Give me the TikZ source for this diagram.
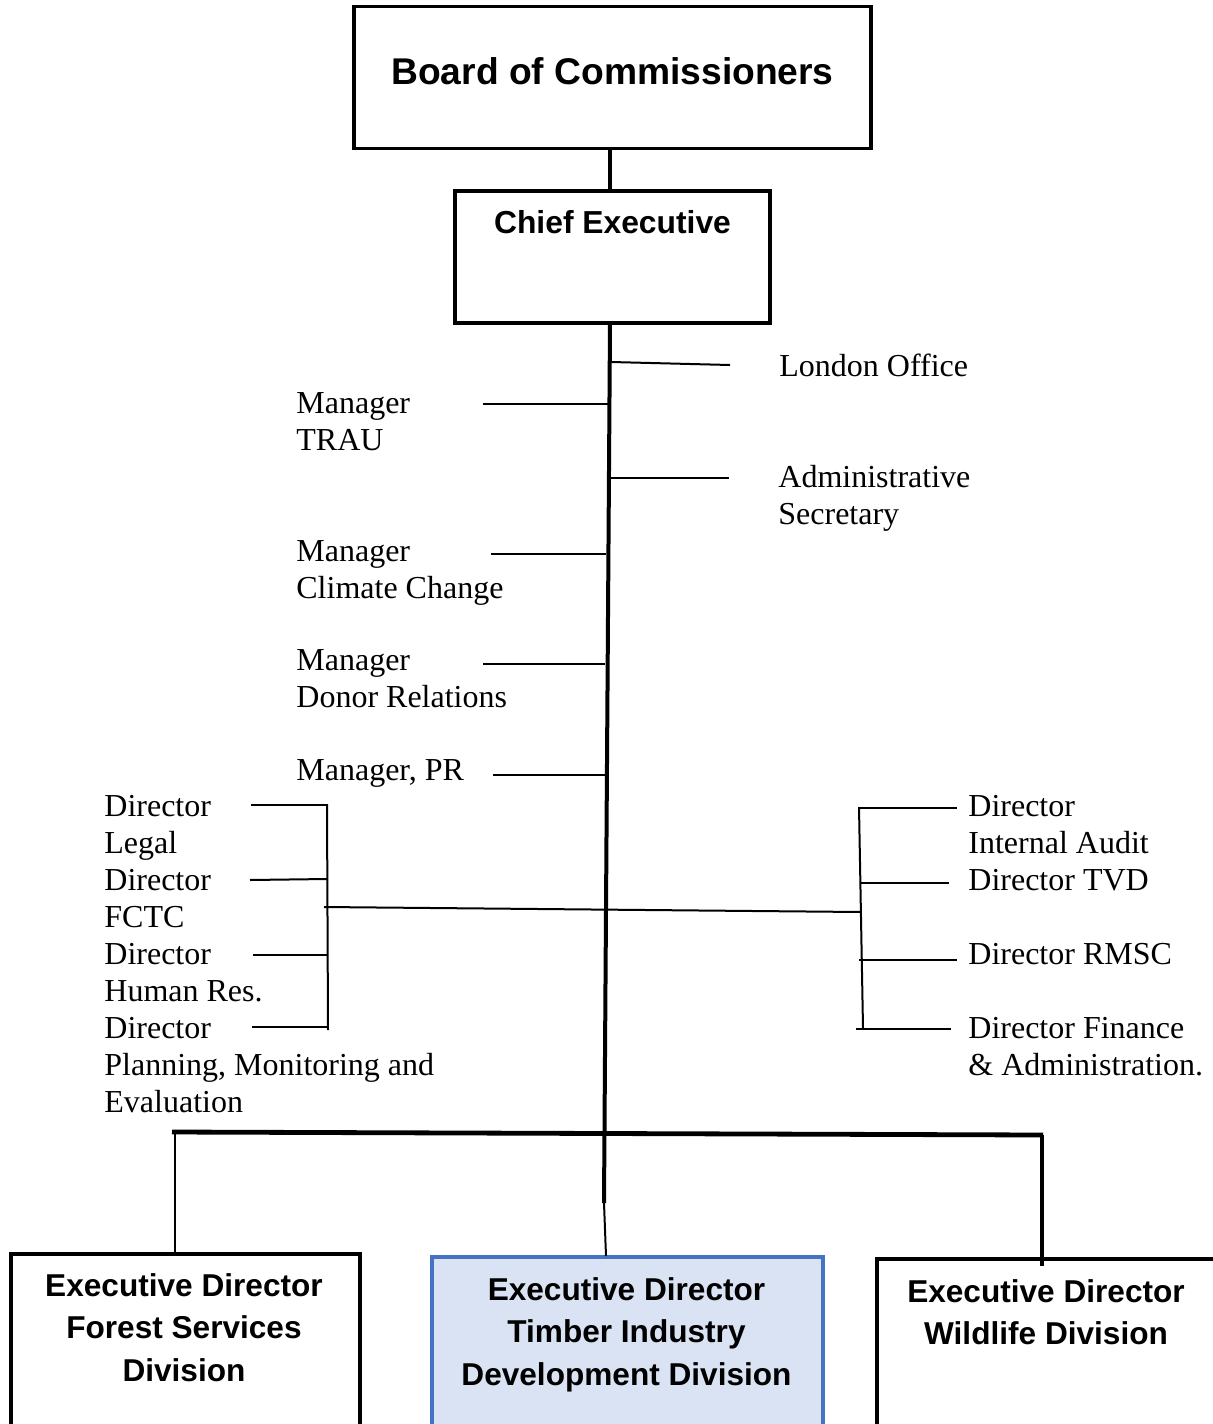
\documentclass[tikz,border=0pt]{standalone}
\usepackage{fontspec}
\setmainfont{Liberation Serif}
\setsansfont{Liberation Sans}
\definecolor{boxblue}{HTML}{4472C4}
\definecolor{boxfill}{HTML}{DAE3F3}
\begin{document}
\begin{tikzpicture}[x=0.5pt,y=-0.5pt,
  unitbox/.style={draw=black, line width=1.8pt, inner sep=0pt, outer sep=0pt},
  boxtitle/.style={font=\sffamily\bfseries\fontsize{15.8}{21.25}\selectfont, align=center, anchor=north, inner sep=0pt},
  post/.style={font=\fontsize{16}{18.5}\selectfont, align=left, anchor=north west, inner sep=0pt},
  trunk/.style={line width=2pt},
  twig/.style={line width=1pt},
  bar/.style={line width=2.4pt}]
\useasboundingbox (0,0) rectangle (1213,1424);
\clip (0,0) rectangle (1213,1424);

% top boxes
\node[unitbox, minimum width=258.5pt, minimum height=71pt] (board) at (612.5,77.5) {};
\node[font=\sffamily\bfseries\fontsize{18.6}{22}\selectfont, anchor=north, inner sep=0pt] (boardtxt) at (612.5,57) {Board of Commissioners};
\node[unitbox, minimum width=157.5pt, minimum height=66pt] (ce) at (612.5,257) {};
\node[font=\sffamily\bfseries\fontsize{15.9}{19}\selectfont, anchor=north, inner sep=0pt] (cetxt) at (612.5,210) {Chief Executive};

% division boxes (run past the lower edge)
\node[unitbox, minimum width=174.5pt, minimum height=130pt] (fsd) at (185.5,1384) {};
\node[boxtitle] (fsdtxt) at (184,1273) {Executive Director\\Forest Services\\Division};
\node[unitbox, draw=boxblue, fill=boxfill, minimum width=195.5pt, minimum height=130pt] (tidd) at (627.5,1387) {};
\node[boxtitle] (tiddtxt) at (626.5,1277) {Executive Director\\Timber Industry\\Development Division};
\node[unitbox, line width=2.2pt, minimum width=211.5pt, minimum height=130pt] (wd) at (1088.5,1389) {};
\node[boxtitle] (wdtxt) at (1046,1279) {Executive Director\\Wildlife Division};

% staff posts
\node[post] (london) at (779,354) {London Office};
\node[post] (trau) at (296,392) {Manager\\TRAU};
\node[post] (admin) at (778,465) {Administrative\\Secretary};
\node[post] (climate) at (296,540) {Manager\\Climate Change};
\node[post] (donor) at (296,649) {Manager\\Donor Relations};
\node[post] (pr) at (296,759) {Manager, PR};
\node[post] (legal) at (104,795) {Director\\Legal};
\node[post] (fctc) at (104,869) {Director\\FCTC};
\node[post] (hr) at (104,943) {Director\\Human Res.};
\node[post] (pme) at (104,1017) {Director\\Planning, Monitoring and\\Evaluation};
\node[post] (audit) at (968,795) {Director\\Internal Audit};
\node[post] (tvd) at (968,869) {Director TVD};
\node[post] (rmsc) at (968,943) {Director RMSC};
\node[post] (fin) at (968,1017) {Director Finance\\\& Administration.};

% connector end points
\coordinate (bdown) at (610,149);
\coordinate (ceup) at (610,191);
\coordinate (t0) at (610,323);
\coordinate (t1) at (604,1203);
\coordinate (t2) at (606,1256);
\coordinate (lonA) at (611,362);   \coordinate (lonB) at (730,365);
\coordinate (trA) at (483,404);    \coordinate (trB) at (609,404);
\coordinate (adA) at (610,478);    \coordinate (adB) at (729,478);
\coordinate (clA) at (491,554);    \coordinate (clB) at (606,554);
\coordinate (doA) at (483,664);    \coordinate (doB) at (605,664);
\coordinate (prA) at (493,775);    \coordinate (prB) at (606,775);
% left director bracket
\coordinate (lv0) at (327,804);    \coordinate (lv1) at (328,1030);
\coordinate (lg) at (251,805);     \coordinate (lgB) at (327,805);
\coordinate (fc) at (250,880);     \coordinate (fcB) at (327,879);
\coordinate (hrA) at (253,955);    \coordinate (hrB) at (327,955);
\coordinate (pm) at (252,1027);    \coordinate (pmB) at (328,1027);
% right director bracket
\coordinate (rv0) at (859,807);    \coordinate (rv1) at (863,1028);
\coordinate (auA) at (859,808);    \coordinate (auB) at (957,808);
\coordinate (tvA) at (860,883);    \coordinate (tvB) at (949,883);
\coordinate (rmA) at (859,960);    \coordinate (rmB) at (957,960);
\coordinate (fiA) at (856,1029);   \coordinate (fiB) at (951,1029);
% cross link between the brackets
\coordinate (xL) at (324,907);     \coordinate (xR) at (861,912);
% division bar
\coordinate (barL) at (172,1132);  \coordinate (barR) at (1043,1135);
\coordinate (dropL) at (175,1133); \coordinate (dropLb) at (175,1254);
\coordinate (dropR) at (1042,1135);\coordinate (dropRb) at (1042,1266);

\draw[trunk] (bdown) -- (ceup);
\draw[trunk] (t0) -- (t1);
\draw[twig] (t1) -- (t2);
\draw[twig] (lonA) -- (lonB);
\draw[twig] (trA) -- (trB);
\draw[twig] (adA) -- (adB);
\draw[twig] (clA) -- (clB);
\draw[twig] (doA) -- (doB);
\draw[twig] (prA) -- (prB);
\draw[twig] (lv0) -- (lv1);
\draw[twig] (lg) -- (lgB);
\draw[twig] (fc) -- (fcB);
\draw[twig] (hrA) -- (hrB);
\draw[twig] (pm) -- (pmB);
\draw[twig] (rv0) -- (rv1);
\draw[twig] (auA) -- (auB);
\draw[twig] (tvA) -- (tvB);
\draw[twig] (rmA) -- (rmB);
\draw[twig] (fiA) -- (fiB);
\draw[twig] (xL) -- (xR);
\draw[bar] (barL) -- (barR);
\draw[twig] (dropL) -- (dropLb);
\draw[line width=1.8pt] (dropR) -- (dropRb);
\end{tikzpicture}
\end{document}
